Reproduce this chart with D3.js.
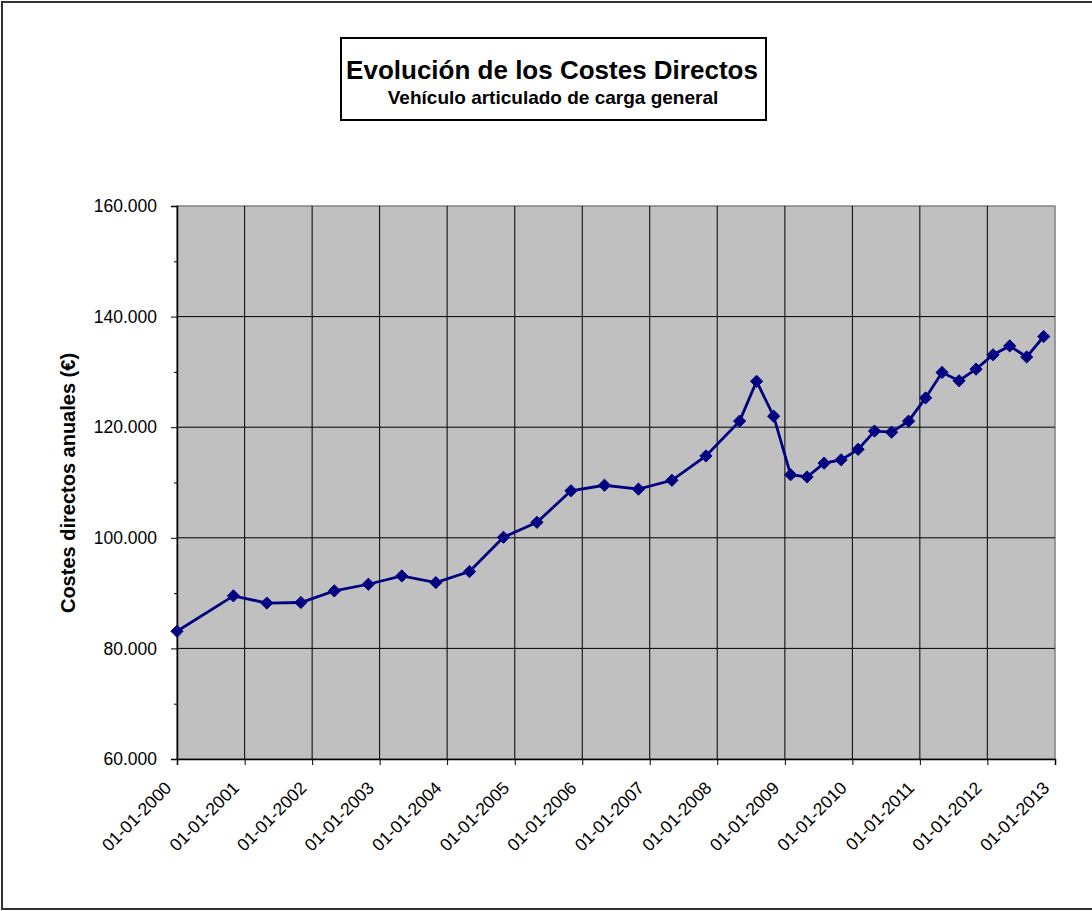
<!DOCTYPE html>
<html>
<head>
<meta charset="utf-8">
<script src="https://cdn.jsdelivr.net/npm/d3@7"></script>
<style>
  body { margin: 0; background: #fff; }
  svg { font-family: Arial, "Liberation Sans", sans-serif; }
</style>
</head>
<body>
<svg width="1092" height="911"></svg>
<script>
// fechas y costes directos anuales (€)
var fechas = ["2000-01-01","2000-11-01","2001-05-01","2001-11-01","2002-05-01","2002-11-01",
  "2003-05-01","2003-11-01","2004-05-01","2004-11-01","2005-05-01","2005-11-01",
  "2006-05-01","2006-11-01","2007-05-01","2007-11-01","2008-05-01","2008-08-01",
  "2008-11-01","2009-02-01","2009-05-01","2009-08-01","2009-11-01","2010-02-01",
  "2010-05-01","2010-08-01","2010-11-01","2011-02-01","2011-05-01","2011-08-01",
  "2011-11-01","2012-02-01","2012-05-01","2012-08-01","2012-11-01"];
var costes = [83100, 89500, 88200, 88300, 90400, 91600,
  93100, 91900, 93900, 100100, 102800, 108500,
  109500, 108800, 110400, 114800, 121100, 128300,
  122000, 111400, 111000, 113500, 114100, 116000,
  119300, 119100, 121100, 125300, 129900, 128400,
  130500, 133100, 134700, 132700, 136400];
var yTicks = [60000, 80000, 100000, 120000, 140000, 160000];
var yMinor = [70000, 90000, 110000, 130000, 150000];
var anios = d3.range(2000, 2014);

var parse = d3.timeParse("%Y-%m-%d");
var datos = fechas.map(function(f, i) { return { fecha: parse(f), valor: costes[i] }; });

var svg = d3.select("svg");
var mIzq = 177, mSup = 206, ancho = 878, alto = 553;

// marco exterior
svg.append("rect").attr("x", 2).attr("y", 2).attr("width", 1100).attr("height", 907)
  .attr("fill", "none").attr("stroke", "#333").attr("stroke-width", 2);

var x = d3.scaleTime().domain([new Date(2000, 0, 1), new Date(2013, 0, 1)]).range([0, ancho]);
var y = d3.scaleLinear().domain([60000, 160000]).range([alto, 0]);
var es = d3.formatLocale({ decimal: ",", thousands: ".", grouping: [3], currency: ["", "€"] });
var fmt = es.format(",.0f");
var fmtFecha = d3.timeFormat("%d-%m-%Y");

var g = svg.append("g").attr("transform", "translate(" + mIzq + "," + mSup + ")");

g.append("rect").attr("width", ancho).attr("height", alto)
  .attr("fill", "#c0c0c0").attr("stroke", "#808080").attr("stroke-width", 1.5);

// rejilla
g.selectAll(".gy").data(yTicks.slice(1, -1)).enter().append("line")
  .attr("x1", 0).attr("x2", ancho)
  .attr("y1", function(d) { return y(d); }).attr("y2", function(d) { return y(d); })
  .attr("stroke", "#000").attr("stroke-width", 1);
g.selectAll(".gx").data(anios.slice(1, -1)).enter().append("line")
  .attr("x1", function(d) { return x(new Date(d, 0, 1)); })
  .attr("x2", function(d) { return x(new Date(d, 0, 1)); })
  .attr("y1", 0).attr("y2", alto)
  .attr("stroke", "#000").attr("stroke-width", 1);

// eje Y
var ejeY = g.append("g")
  .call(d3.axisLeft(y).tickValues(yTicks).tickFormat(fmt).tickSize(6).tickPadding(14));
ejeY.select(".domain").attr("stroke", "#000").attr("stroke-width", 1.5);
ejeY.selectAll("text").attr("font-size", 17.5).attr("fill", "#000");
g.append("g").call(d3.axisLeft(y).tickValues(yMinor).tickFormat("").tickSize(3))
  .select(".domain").remove();

// eje X
var ejeX = g.append("g").attr("transform", "translate(0," + alto + ")")
  .call(d3.axisBottom(x).tickValues(anios.map(function(a) { return new Date(a, 0, 1); }))
    .tickFormat(fmtFecha).tickSize(6));
ejeX.select(".domain").attr("stroke", "#000").attr("stroke-width", 1.5);
ejeX.selectAll("text")
  .attr("font-size", 17.5).attr("fill", "#000")
  .attr("text-anchor", "end")
  .attr("dy", 0).attr("y", 0)
  .attr("transform", "translate(-5,30) rotate(-45)");

// serie
var linea = d3.line().x(function(d) { return x(d.fecha); }).y(function(d) { return y(d.valor); });
g.append("path").datum(datos).attr("d", linea)
  .attr("fill", "none").attr("stroke", "#000080").attr("stroke-width", 2.8);
g.selectAll(".pt").data(datos).enter().append("path")
  .attr("transform", function(d) { return "translate(" + x(d.fecha) + "," + y(d.valor) + ")"; })
  .attr("d", d3.symbol().type(d3.symbolDiamond2).size(95))
  .attr("fill", "#000080").attr("stroke", "#000080").attr("stroke-width", 1);

// título del eje Y
svg.append("text").attr("transform", "translate(75,483) rotate(-90)")
  .attr("text-anchor", "middle").attr("font-size", 20).attr("font-weight", "bold")
  .text("Costes directos anuales (€)");

// título
svg.append("rect").attr("x", 341).attr("y", 38).attr("width", 425).attr("height", 82)
  .attr("fill", "#fff").attr("stroke", "#000").attr("stroke-width", 2);
svg.append("text").attr("x", 552).attr("y", 79).attr("text-anchor", "middle")
  .attr("font-size", 26).attr("font-weight", "bold").text("Evolución de los Costes Directos");
svg.append("text").attr("x", 553).attr("y", 104).attr("text-anchor", "middle")
  .attr("font-size", 19).attr("font-weight", "bold").text("Vehículo articulado de carga general");
</script>
</body>
</html>
